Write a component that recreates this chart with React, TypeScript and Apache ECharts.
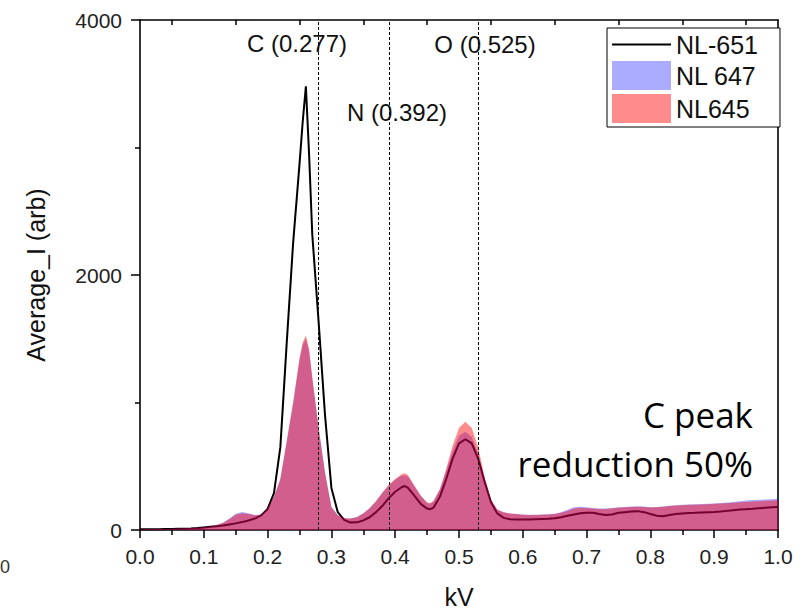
import React, { useEffect, useRef } from "react";
import * as echarts from "echarts";

const kv = [
  0.0, 0.01, 0.02, 0.03, 0.04, 0.05, 0.06, 0.07, 0.08, 0.09,
  0.1, 0.11, 0.12, 0.13, 0.14, 0.15, 0.16, 0.17, 0.18, 0.19,
  0.2, 0.21, 0.22, 0.23, 0.24, 0.25, 0.255, 0.26, 0.265, 0.27, 0.28, 0.29,
  0.3, 0.31, 0.32, 0.33, 0.34, 0.35, 0.36, 0.37, 0.38, 0.39,
  0.4, 0.41, 0.415, 0.42, 0.43, 0.44, 0.45, 0.455, 0.46, 0.47, 0.48, 0.49,
  0.5, 0.51, 0.52, 0.53, 0.54, 0.55, 0.56, 0.57, 0.58, 0.59,
  0.6, 0.61, 0.62, 0.63, 0.64, 0.65, 0.66, 0.67, 0.68, 0.69,
  0.7, 0.71, 0.72, 0.73, 0.74, 0.75, 0.76, 0.77, 0.78, 0.79,
  0.8, 0.81, 0.82, 0.83, 0.84, 0.85, 0.86, 0.87, 0.88, 0.89,
  0.9, 0.91, 0.92, 0.93, 0.94, 0.95, 0.96, 0.97, 0.98, 0.99, 1.0,
];

const nl651 = [
  5, 5, 6, 6, 7, 8, 9, 10, 12, 15,
  20, 25, 30, 36, 44, 52, 62, 75, 90, 115,
  165, 290, 650, 1470, 2250, 2870, 3200, 3480, 2950, 2320, 1630, 900,
  330, 140, 80, 58, 60, 75, 100, 140, 190, 250,
  300, 335, 345, 330, 270, 205, 168, 163, 175, 260, 400, 560,
  680, 712, 680, 560, 380, 220, 130, 95, 85, 82,
  82, 82, 84, 86, 88, 92, 100, 112, 122, 132,
  135, 135, 125, 117, 122, 135, 140, 145, 148, 140,
  125, 112, 108, 118, 125, 130, 133, 135, 138, 140,
  142, 145, 150, 155, 160, 163, 166, 170, 174, 178, 180,
];

const nl647 = [
  6, 6, 7, 7, 8, 10, 11, 13, 15, 18,
  22, 30, 40, 56, 90, 128, 142, 132, 118, 122,
  170, 260, 400, 690, 990, 1330, 1450, 1500, 1400, 1190, 800, 450,
  180, 115, 92, 90, 102, 132, 172, 225, 292, 350,
  395, 425, 428, 420, 345, 268, 212, 208, 225, 315, 465, 620,
  740, 770, 730, 600, 400, 235, 158, 140, 130, 126,
  122, 120, 120, 122, 124, 128, 140, 158, 178, 182,
  178, 172, 168, 168, 172, 178, 180, 184, 186, 184,
  178, 180, 185, 190, 195, 198, 200, 202, 204, 206,
  208, 212, 215, 220, 226, 232, 236, 238, 240, 242, 245,
];

const nl645 = [
  6, 6, 7, 7, 8, 10, 11, 13, 15, 18,
  22, 30, 40, 55, 85, 120, 132, 125, 115, 120,
  170, 260, 400, 700, 1000, 1350, 1470, 1525, 1420, 1200, 800, 450,
  180, 115, 92, 90, 100, 130, 170, 225, 295, 355,
  400, 438, 445, 432, 350, 270, 215, 210, 228, 320, 480, 660,
  800, 850, 800, 650, 420, 240, 160, 140, 130, 125,
  120, 118, 118, 120, 122, 125, 135, 150, 168, 175,
  172, 168, 165, 165, 170, 175, 178, 180, 182, 180,
  176, 178, 182, 188, 192, 195, 198, 198, 200, 202,
  205, 208, 210, 214, 218, 220, 223, 226, 229, 232, 234,
];

const seriesNames = ["NL-651", "NL 647", "NL645"];
const peakLines = [0.277, 0.392, 0.525];
const peakLabels = ["C (0.277)", "N (0.392)", "O (0.525)"];
const topTicks = [0.05, 0.15, 0.25, 0.35, 0.45, 0.55, 0.65, 0.75, 0.85, 0.95];

const FONT = "'Liberation Sans', Arial, Helvetica, sans-serif";
const BLUE = "rgba(0,0,255,0.33)";
const RED = "rgba(255,0,0,0.45)";

const pairs = (ys: number[]) => kv.map((x, i) => [x, ys[i]]);

export default function App() {
  const ref = useRef<HTMLDivElement>(null);
  useEffect(() => {
    if (!ref.current) return;
    const chart = echarts.init(ref.current, undefined, { renderer: "svg" });
    const axisLineStyle = { color: "#000", width: 1.6 };
    chart.setOption({
      animation: false,
      backgroundColor: "#fff",
      grid: { left: 140, right: 28, top: 20, bottom: 80 },
      xAxis: [
        {
          type: "value",
          min: 0,
          max: 1,
          interval: 0.1,
          position: "bottom",
          name: "kV",
          nameLocation: "middle",
          nameGap: 54,
          nameTextStyle: { fontSize: 25, fontFamily: FONT, color: "#111" },
          axisLine: { show: true, onZero: false, lineStyle: axisLineStyle },
          axisTick: { show: true, inside: false, length: 8, lineStyle: { color: "#000", width: 1.5 } },
          minorTick: { show: true, splitNumber: 2, length: 5, lineStyle: { color: "#000", width: 1.5 } },
          axisLabel: {
            fontSize: 21,
            fontFamily: FONT,
            color: "#222",
            margin: 16,
            formatter: (v: number) => v.toFixed(1),
          },
          splitLine: { show: false },
        },
        {
          type: "value",
          min: 0,
          max: 1,
          position: "top",
          axisLine: { show: true, onZero: false, lineStyle: axisLineStyle },
          axisTick: {
            show: true,
            inside: true,
            length: 5,
            customValues: topTicks,
            lineStyle: { color: "#000", width: 1.5 },
          },
          axisLabel: { show: false },
          splitLine: { show: false },
        },
      ],
      yAxis: [
        {
          type: "value",
          min: 0,
          max: 4000,
          interval: 2000,
          position: "left",
          name: "Average_I (arb)",
          nameLocation: "middle",
          nameGap: 92,
          nameTextStyle: { fontSize: 25, fontFamily: FONT, color: "#111" },
          axisLine: { show: true, onZero: false, lineStyle: axisLineStyle },
          axisTick: { show: true, inside: false, length: 9, lineStyle: { color: "#000", width: 1.5 } },
          minorTick: { show: true, splitNumber: 2, length: 5, lineStyle: { color: "#000", width: 1.5 } },
          axisLabel: {
            fontSize: 21,
            fontFamily: FONT,
            color: "#222",
            margin: 18,
            formatter: (v: number) => String(v),
          },
          splitLine: { show: false },
        },
        {
          type: "value",
          min: 0,
          max: 4000,
          position: "right",
          axisLine: { show: true, onZero: false, lineStyle: axisLineStyle },
          axisTick: { show: false },
          axisLabel: { show: false },
          splitLine: { show: false },
        },
      ],
      legend: {
        orient: "vertical",
        left: 607,
        top: 28,
        padding: [4, 22, 4, 5],
        itemGap: 4,
        itemWidth: 59,
        itemHeight: 29,
        borderColor: "#000",
        borderWidth: 1,
        backgroundColor: "#fff",
        selectedMode: false,
        textStyle: { fontSize: 25, fontFamily: FONT, color: "#111" },
        data: [
          { name: seriesNames[0], icon: "path://M0,0 H59 V2 H0 Z", itemStyle: { color: "#000" } },
          { name: seriesNames[1], icon: "rect", itemStyle: { color: BLUE } },
          { name: seriesNames[2], icon: "rect", itemStyle: { color: RED } },
        ],
      },
      series: [
        {
          name: seriesNames[0],
          type: "line",
          data: pairs(nl651),
          showSymbol: false,
          symbol: "none",
          color: "#000",
          lineStyle: { color: "#000", width: 2 },
          z: 2,
        },
        {
          name: seriesNames[1],
          type: "line",
          data: pairs(nl647),
          showSymbol: false,
          symbol: "none",
          color: BLUE,
          lineStyle: { width: 0 },
          areaStyle: { color: BLUE, opacity: 1 },
          z: 3,
        },
        {
          name: seriesNames[2],
          type: "line",
          data: pairs(nl645),
          showSymbol: false,
          symbol: "none",
          color: RED,
          lineStyle: { width: 0 },
          areaStyle: { color: RED, opacity: 1 },
          z: 4,
          markLine: {
            silent: true,
            symbol: "none",
            label: { show: false },
            lineStyle: { color: "#000", width: 1, type: [3, 2] },
            data: peakLines.map((v) => ({ xAxis: v })),
          },
        },
      ],
      graphic: [
        {
          type: "text",
          x: 297,
          y: 43,
          style: { text: peakLabels[0], font: `24px ${FONT}`, fill: "#111", textAlign: "center", textVerticalAlign: "middle" },
        },
        {
          type: "text",
          x: 397,
          y: 112,
          style: { text: peakLabels[1], font: `24px ${FONT}`, fill: "#111", textAlign: "center", textVerticalAlign: "middle" },
        },
        {
          type: "text",
          x: 485,
          y: 44,
          style: { text: peakLabels[2], font: `24px ${FONT}`, fill: "#111", textAlign: "center", textVerticalAlign: "middle" },
        },
        {
          type: "text",
          x: 753,
          y: 414,
          style: { text: "C peak", font: `35px 'Open Sans', sans-serif`, fill: "#000", textAlign: "right", textVerticalAlign: "middle" },
        },
        {
          type: "text",
          x: 753,
          y: 463,
          style: { text: "reduction 50%", font: `35px 'Open Sans', sans-serif`, fill: "#000", textAlign: "right", textVerticalAlign: "middle" },
        },
        {
          type: "text",
          x: 0,
          y: 567,
          style: { text: "0", font: `18px ${FONT}`, fill: "#333", textAlign: "left", textVerticalAlign: "middle" },
        },
      ],
    });
    return () => chart.dispose();
  }, []);
  return <div ref={ref} style={{ width: 806, height: 614, position: "fixed", left: 0, top: 0 }} />;
}
